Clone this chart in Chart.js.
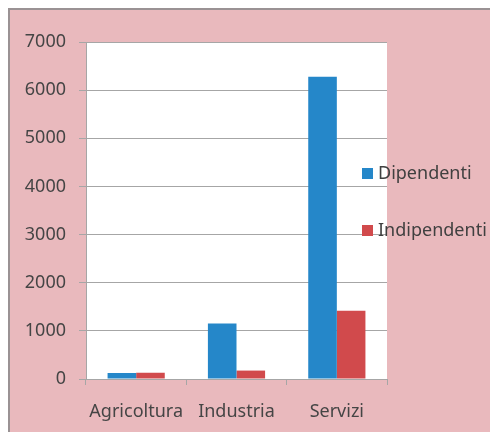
<!DOCTYPE html>
<html>
<head>
<meta charset="utf-8">
<script src="https://cdn.jsdelivr.net/npm/chart.js@4/dist/chart.umd.min.js"></script>
<style>
  html, body { margin: 0; padding: 0; background: #ffffff; overflow: hidden; }
  canvas { display: block; }
</style>
</head>
<body>
<canvas id="chart" width="490" height="432"></canvas>
<script>
/* dati */
const categorie = ['Agricoltura', 'Industria', 'Servizi'];
const dipendenti = [125, 1155, 6280];
const indipendenti = [130, 175, 1420];
const etichetteSerie = ['Dipendenti', 'Indipendenti'];
const coloriSerie = ['#2587c9', '#d14a4c'];

const FONT = '"Noto Sans", "Open Sans", sans-serif';

/* sfondo rosa con bordo grigio e area del grafico bianca */
const sfondo = {
  id: 'sfondo',
  beforeDraw(chart) {
    const { ctx, width, height, chartArea: a } = chart;
    ctx.save();
    ctx.fillStyle = '#ffffff';
    ctx.fillRect(0, 0, width, height);
    ctx.fillStyle = '#e9b9bd';
    ctx.fillRect(9, 9, width - 9, height - 9);
    ctx.strokeStyle = '#9a9294';
    ctx.lineWidth = 2;
    ctx.beginPath();
    ctx.moveTo(9, height + 5);
    ctx.lineTo(9, 9);
    ctx.lineTo(width + 5, 9);
    ctx.stroke();
    ctx.fillStyle = '#ffffff';
    ctx.fillRect(a.left, a.top, a.right - a.left, a.bottom - a.top);
    ctx.restore();
  }
};

/* legenda disegnata a mano, sovrapposta al bordo destro */
const legenda = {
  id: 'legenda',
  afterDraw(chart) {
    const { ctx } = chart;
    const righe = [174, 231];
    ctx.save();
    ctx.font = '18px ' + FONT;
    ctx.textBaseline = 'middle';
    chart.data.datasets.forEach((ds, i) => {
      ctx.fillStyle = ds.backgroundColor;
      ctx.fillRect(362, righe[i] - 6, 11, 11);
      ctx.fillStyle = '#404040';
      ctx.fillText(ds.label, 378, righe[i]);
    });
    ctx.restore();
  }
};

new Chart(document.getElementById('chart'), {
  type: 'bar',
  data: {
    labels: categorie,
    datasets: [
      { label: etichetteSerie[0], data: dipendenti, backgroundColor: coloriSerie[0] },
      { label: etichetteSerie[1], data: indipendenti, backgroundColor: coloriSerie[1] },
    ],
  },
  options: {
    responsive: false,
    animation: false,
    layout: { padding: { left: 0, right: 103, top: 42, bottom: 0 } },
    categoryPercentage: 0.57,
    barPercentage: 1,
    plugins: {
      legend: { display: false },
      tooltip: { enabled: false },
    },
    scales: {
      x: {
        afterFit(s) { s.height = 53; },
        grid: {
          offset: true,
          drawOnChartArea: false,
          drawTicks: true,
          tickLength: 6,
          color: '#a6a6a6',
        },
        border: { color: '#a6a6a6', width: 1 },
        ticks: { color: '#454545', font: { family: FONT, size: 18 }, padding: 16 },
      },
      y: {
        min: 0,
        max: 7000,
        afterFit(s) { s.width = 86; },
        grid: { color: '#a6a6a6', tickLength: 7 },
        border: { color: '#a6a6a6', width: 1 },
        ticks: {
          stepSize: 1000,
          color: '#454545',
          font: { family: FONT, size: 18 },
          padding: 13,
          callback: v => String(v),
        },
      },
    },
  },
  plugins: [sfondo, legenda],
});
</script>
</body>
</html>
